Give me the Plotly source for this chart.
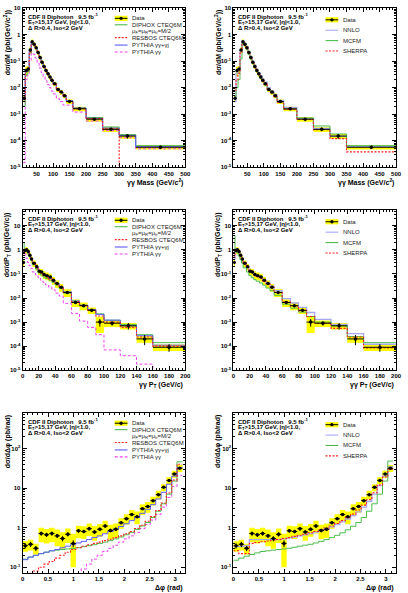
import plotly.graph_objects as go

# ---------------- data ----------------
mass_edges = [10, 16, 22, 28, 34, 40, 46, 52, 58, 64, 70, 76, 82, 88, 94, 100, 110, 120, 130, 140, 160, 200, 250, 300, 350, 500]
mass_data = [0.004, 0.044, 0.05, 0.26, 0.53, 0.43, 0.32, 0.21, 0.135, 0.09, 0.063, 0.044, 0.033, 0.025, 0.019,
             0.014, 0.0085, 0.0068, 0.005, 0.003, 0.0016, 0.00065, 0.00027, 0.00015, 0.000057]
mass_stat = [0.15, 0.06, 0.05, 0.03, 0.02, 0.02, 0.02, 0.02, 0.02, 0.03, 0.03, 0.03, 0.03, 0.03, 0.04,
             0.04, 0.05, 0.05, 0.06, 0.06, 0.07, 0.1, 0.15, 0.2, 0.15]
mass_sys = [0.3, 0.4, 0.3, 0.25, 0.22, 0.2, 0.2, 0.2, 0.2, 0.2, 0.2, 0.2, 0.2, 0.2, 0.2,
            0.2, 0.2, 0.2, 0.2, 0.2, 0.2, 0.2, 0.2, 0.2, 0.18]
mass_diphox = [0.002, 0.03, 0.04, 0.2, 0.45, 0.4, 0.3, 0.2, 0.13, 0.085, 0.06, 0.043, 0.032, 0.024, 0.018,
               0.0135, 0.0087, 0.0068, 0.005, 0.0031, 0.0017, 0.00075, 0.00033, 0.00017, 0.000065]
mass_resbos = [0.003, 0.04, 0.045, 0.22, 0.5, 0.42, 0.31, 0.2, 0.13, 0.088, 0.06, 0.043, 0.032, 0.024, 0.018,
               0.0135, 0.0085, 0.0066, 0.0048, 0.003, 0.0016, 0.00068, 0.00028, 1e-9, 1e-9]
mass_pythia = [0.0035, 0.04, 0.05, 0.24, 0.5, 0.43, 0.32, 0.21, 0.135, 0.09, 0.063, 0.045, 0.034, 0.025, 0.019,
               0.014, 0.009, 0.007, 0.0052, 0.0032, 0.0017, 0.0007, 0.0003, 0.00016, 0.00006]
mass_pythia_gg = [1.5e-5, 0.02, 0.03, 0.1, 0.2, 0.18, 0.13, 0.085, 0.055, 0.037, 0.026, 0.018, 0.013, 0.01, 0.0075,
                  0.0058, 0.0038, 0.003, 0.0022, 0.0022, 0.0012, 0.00055, 0.00024, 0.00013, 0.00005]
mass_nnlo = [0.003, 0.035, 0.05, 0.25, 0.55, 0.46, 0.35, 0.23, 0.15, 0.1, 0.07, 0.05, 0.037, 0.028, 0.021,
             0.016, 0.01, 0.0075, 0.0055, 0.0033, 0.0018, 0.0007, 0.00029, 0.00015, 0.00006]
mass_mcfm = [0.004, 0.01, 0.02, 0.12, 0.45, 0.38, 0.28, 0.18, 0.12, 0.08, 0.056, 0.04, 0.03, 0.022, 0.017,
             0.0125, 0.008, 0.0063, 0.0046, 0.0028, 0.0015, 0.00072, 0.00036, 0.00018, 0.000065]
mass_sherpa = [0.008, 0.02, 0.035, 0.2, 0.5, 0.42, 0.31, 0.2, 0.13, 0.088, 0.06, 0.043, 0.032, 0.024, 0.018,
               0.0133, 0.0083, 0.0064, 0.0046, 0.0028, 0.0015, 0.00063, 0.00026, 0.00012, 0.000038]

pt_edges = [0, 2, 4, 6, 8, 10, 12, 16, 19, 22, 25, 28, 32, 36, 40, 45, 50, 60, 70, 80, 90, 100, 120, 140, 160, 200]
pt_data = [0.3, 0.95, 1.0, 0.85, 0.6, 0.42, 0.28, 0.2, 0.13, 0.12, 0.095, 0.085, 0.075, 0.055, 0.04, 0.028, 0.017,
           0.0065, 0.0048, 0.0031, 0.001, 0.0009, 0.0007, 0.0002, 0.00009]
pt_stat = [0.06, 0.03, 0.03, 0.03, 0.03, 0.03, 0.03, 0.03, 0.04, 0.04, 0.04, 0.05, 0.05, 0.06, 0.06, 0.07, 0.07,
           0.1, 0.1, 0.12, 0.35, 0.2, 0.3, 0.45, 0.35]
pt_sys = [0.3, 0.3, 0.3, 0.3, 0.3, 0.3, 0.3, 0.3, 0.3, 0.35, 0.35, 0.35, 0.35, 0.35, 0.35, 0.35, 0.35,
          0.35, 0.35, 0.3, 0.65, 0.3, 0.3, 0.3, 0.3]
pt_diphox = [2.0, 1.0, 0.9, 0.7, 0.5, 0.37, 0.24, 0.16, 0.11, 0.09, 0.075, 0.065, 0.055, 0.045, 0.035, 0.025, 0.016,
             0.0075, 0.005, 0.0033, 0.0022, 0.0012, 0.0008, 0.0003, 0.00014]
pt_resbos = [0.6, 1.0, 0.95, 0.8, 0.6, 0.42, 0.28, 0.19, 0.135, 0.11, 0.09, 0.075, 0.062, 0.05, 0.038, 0.027, 0.017,
             0.007, 0.0048, 0.0031, 0.0018, 0.001, 0.0006, 0.00024, 0.0001]
pt_pythia = [0.8, 1.05, 0.95, 0.78, 0.58, 0.42, 0.29, 0.2, 0.14, 0.115, 0.095, 0.08, 0.066, 0.052, 0.04, 0.029, 0.018,
             0.0075, 0.005, 0.0033, 0.0021, 0.0012, 0.0007, 0.00027, 0.00011]
pt_pythia_gg = [0.9, 0.7, 0.45, 0.3, 0.22, 0.17, 0.12, 0.09, 0.07, 0.055, 0.045, 0.035, 0.028, 0.022, 0.016, 0.012,
                0.006, 0.0023, 0.0011, 0.0006, 0.0003, 0.00007, 0.00004, 0.000018, 0.000005]
pt_nnlo = [0.4, 1.1, 1.0, 0.82, 0.6, 0.43, 0.29, 0.2, 0.14, 0.115, 0.095, 0.08, 0.068, 0.055, 0.042, 0.031, 0.02,
           0.0095, 0.0062, 0.0041, 0.0025, 0.0013, 0.0008, 0.00033, 0.00012]
pt_mcfm = [4.0, 0.9, 0.75, 0.55, 0.4, 0.28, 0.18, 0.12, 0.085, 0.07, 0.058, 0.05, 0.042, 0.034, 0.026, 0.02, 0.013,
           0.0055, 0.0038, 0.0026, 0.0017, 0.001, 0.0007, 0.00025, 0.00014]
pt_sherpa = [0.5, 1.0, 0.98, 0.8, 0.6, 0.43, 0.29, 0.2, 0.14, 0.11, 0.09, 0.078, 0.065, 0.05, 0.039, 0.028, 0.017,
             0.007, 0.0047, 0.003, 0.0017, 0.0009, 0.00055, 0.00024, 0.000085]

dphi_edges = [0, 0.1047, 0.2094, 0.3142, 0.4189, 0.5236, 0.6283, 0.7330, 0.8378, 0.9425, 1.0472, 1.1519,
              1.2566, 1.3614, 1.4661, 1.5708, 1.6755, 1.7802, 1.8850, 1.9897, 2.0944, 2.1991, 2.3038,
              2.4086, 2.5133, 2.6180, 2.7227, 2.8274, 2.9322, 3.0369, 3.1416]
dphi_data = [0.35, 0.38, 0.30, 0.71, 0.66, 0.71, 0.62, 0.53, 0.68, 0.40, 0.83, 0.80, 0.94, 0.78, 0.91, 1.10,
             0.85, 0.91, 1.33, 1.68, 2.14, 1.88, 3.0, 3.4, 4.8, 6.8, 10.4, 15.6, 22.7, 31.6]
dphi_stat = [0.15, 0.15, 0.15, 0.12, 0.12, 0.12, 0.12, 0.15, 0.12, 0.2, 0.1, 0.1, 0.1, 0.1, 0.1, 0.1,
             0.1, 0.1, 0.08, 0.08, 0.07, 0.07, 0.06, 0.06, 0.05, 0.05, 0.04, 0.04, 0.04, 0.04]
dphi_sys = [0.3, 0.3, 0.3, 0.4, 0.4, 0.4, 0.45, 0.45, 0.4, 0.75, 0.35, 0.35, 0.35, 0.4, 0.35, 0.35,
            0.4, 0.4, 0.3, 0.3, 0.3, 0.35, 0.3, 0.3, 0.25, 0.25, 0.2, 0.2, 0.2, 0.2]
dphi_diphox = [0.16, 0.18, 0.2, 0.22, 0.24, 0.26, 0.27, 0.28, 0.29, 0.3, 0.31, 0.33, 0.35, 0.37, 0.4, 0.43,
               0.47, 0.52, 0.58, 0.66, 0.76, 0.9, 1.1, 1.35, 1.8, 2.6, 4.0, 7.0, 15, 46]
dphi_resbos = [0.065, 0.07, 0.08, 0.1, 0.12, 0.14, 0.17, 0.2, 0.24, 0.28, 0.31, 0.34, 0.37, 0.4, 0.43, 0.47,
               0.51, 0.56, 0.62, 0.7, 0.8, 0.95, 1.15, 1.45, 1.9, 2.7, 4.2, 7.5, 16, 40]
dphi_pythia = [0.155, 0.18, 0.2, 0.22, 0.24, 0.26, 0.28, 0.31, 0.34, 0.37, 0.41, 0.45, 0.5, 0.56, 0.62, 0.7,
               0.8, 0.92, 1.07, 1.25, 1.5, 1.8, 2.3, 2.9, 3.8, 5.3, 7.8, 12.5, 20, 33]
dphi_pythia_gg = [0.004, 0.005, 0.006, 0.007, 0.009, 0.011, 0.014, 0.019, 0.027, 0.04, 0.065, 0.09, 0.12, 0.16, 0.2, 0.25,
                  0.3, 0.36, 0.43, 0.52, 0.62, 0.76, 0.95, 1.2, 1.55, 2.15, 3.3, 5.8, 11, 21]
dphi_nnlo = [0.33, 0.33, 0.35, 0.5, 0.5, 0.5, 0.5, 0.5, 0.5, 0.52, 0.55, 0.58, 0.62, 0.66, 0.71, 0.77,
             0.84, 0.93, 1.05, 1.2, 1.4, 1.65, 2.0, 2.5, 3.3, 4.6, 7.0, 11.5, 20, 34]
dphi_mcfm = [0.15, 0.17, 0.19, 0.21, 0.23, 0.25, 0.26, 0.27, 0.28, 0.29, 0.3, 0.32, 0.34, 0.36, 0.38, 0.41,
             0.45, 0.5, 0.56, 0.64, 0.74, 0.88, 1.08, 1.35, 1.8, 2.6, 4.0, 7.0, 15, 48]
dphi_sherpa = [0.26, 0.22, 0.22, 0.4, 0.42, 0.44, 0.46, 0.48, 0.5, 0.53, 0.56, 0.6, 0.64, 0.68, 0.74, 0.8,
               0.88, 0.98, 1.1, 1.27, 1.5, 1.8, 2.2, 2.8, 3.7, 5.1, 7.6, 12, 19, 30]

mass_ticks = [50, 100, 150, 200, 250, 300, 350, 400, 450, 500]
pt_ticks = [0, 20, 40, 60, 80, 100, 120, 140, 160, 180, 200]
dphi_ticks = [0, 0.5, 1, 1.5, 2, 2.5, 3]
dphi_ticklabels = ["0", "0.5", "1", "1.5", "2", "2.5", "3"]

# ---------------- style / layout ----------------
W, H = 408, 593
FONT = "Liberation Sans"
C_GREEN, C_RED, C_BLUE, C_MAG, C_NNLO = "#4cbc4c", "#ff2020", "#5a5aff", "#f040f0", "#a8a8f0"
RED_DOT = "2px,1.5px"
MAG_DASH = "3px,2px"
YELLOW = "#ffff00"

# panel pixel boxes: left, top, right, bottom
boxes = {1: (21, 5, 187, 166), 2: (236, 5, 402, 166),
         3: (21, 209, 187, 371), 4: (236, 209, 402, 371),
         5: (21, 414, 187, 576), 6: (236, 414, 402, 576)}

fig = go.Figure()


def axn(i, base):
    return base if i == 1 else f"{base}{i}"


def add_panel(i, edges, data, stat, sys, curves):
    xa, ya = axn(i, "x"), axn(i, "y")
    cen = [(a + b) / 2 for a, b in zip(edges[:-1], edges[1:])]
    half = [(b - a) / 2 for a, b in zip(edges[:-1], edges[1:])]
    px, py = [], []
    for a, b, v, s in zip(edges[:-1], edges[1:], data, sys):
        lo, hi = v * (1 - s), v * (1 + s)
        px += [a, b, b, a, a, None]
        py += [lo, lo, hi, hi, lo, None]
    fig.add_trace(go.Scatter(x=px, y=py, mode="lines", fill="toself", fillcolor=YELLOW,
                             line=dict(width=0), hoverinfo="skip", showlegend=False, xaxis=xa, yaxis=ya))
    for vals, color, dash, width in curves:
        fig.add_trace(go.Scatter(x=edges, y=list(vals) + [vals[-1]], mode="lines",
                                 line=dict(shape="hv", color=color, dash=dash, width=width),
                                 showlegend=False, xaxis=xa, yaxis=ya))
    fig.add_trace(go.Scatter(x=cen, y=data, mode="markers",
                             marker=dict(color="black", size=3.5),
                             error_x=dict(type="data", array=half, width=0, thickness=1, color="black"),
                             error_y=dict(type="data", array=[v * s for v, s in zip(data, stat)],
                                          width=0, thickness=1, color="black"),
                             showlegend=False, xaxis=xa, yaxis=ya))


add_panel(1, mass_edges, mass_data, mass_stat, mass_sys,
          [(mass_pythia_gg, C_MAG, MAG_DASH, 1), (mass_diphox, C_GREEN, "solid", 1),
           (mass_pythia, C_BLUE, "solid", 1), (mass_resbos, C_RED, RED_DOT, 1.1)])
add_panel(2, mass_edges, mass_data, mass_stat, mass_sys,
          [(mass_nnlo, C_NNLO, "solid", 1.3), (mass_mcfm, C_GREEN, "solid", 1), (mass_sherpa, C_RED, RED_DOT, 1.1)])
add_panel(3, pt_edges, pt_data, pt_stat, pt_sys,
          [(pt_pythia_gg, C_MAG, MAG_DASH, 1), (pt_diphox, C_GREEN, "solid", 1),
           (pt_pythia, C_BLUE, "solid", 1), (pt_resbos, C_RED, RED_DOT, 1.1)])
add_panel(4, pt_edges, pt_data, pt_stat, pt_sys,
          [(pt_nnlo, C_NNLO, "solid", 1.3), (pt_mcfm, C_GREEN, "solid", 1), (pt_sherpa, C_RED, RED_DOT, 1.1)])
add_panel(5, dphi_edges, dphi_data, dphi_stat, dphi_sys,
          [(dphi_pythia_gg, C_MAG, MAG_DASH, 1), (dphi_diphox, C_GREEN, "solid", 1),
           (dphi_pythia, C_BLUE, "solid", 1), (dphi_resbos, C_RED, RED_DOT, 1.1)])
add_panel(6, dphi_edges, dphi_data, dphi_stat, dphi_sys,
          [(dphi_nnlo, C_NNLO, "solid", 1.3), (dphi_mcfm, C_GREEN, "solid", 1), (dphi_sherpa, C_RED, RED_DOT, 1.1)])


def log_ticks(lo, hi):
    vals, txt, minor = [], [], []
    for e in range(lo, hi + 1):
        vals.append(10.0 ** e)
        if e == 0:
            txt.append("<b>1</b>")
        elif e == 1:
            txt.append("<b>10</b>")
        else:
            txt.append("<b>10<sup>%d</sup></b>" % e)
        for k in range(2, 10):
            minor.append(k * 10.0 ** e)
    return vals, txt, minor


xspec = {1: dict(range=[8, 500], ticks=mass_ticks, labels=[str(v) for v in mass_ticks], minor=10),
         2: dict(range=[8, 500], ticks=mass_ticks, labels=[str(v) for v in mass_ticks], minor=10),
         3: dict(range=[0, 200], ticks=pt_ticks, labels=[str(v) for v in pt_ticks], minor=4),
         4: dict(range=[0, 200], ticks=pt_ticks, labels=[str(v) for v in pt_ticks], minor=4),
         5: dict(range=[0, 3.2], ticks=dphi_ticks, labels=dphi_ticklabels, minor=0.1),
         6: dict(range=[0, 3.2], ticks=dphi_ticks, labels=dphi_ticklabels, minor=0.1)}
yspec = {1: ([-5, 1], -5, 1), 2: ([-5, 1], -5, 1), 3: ([-5, 1.66], -5, 1), 4: ([-5, 1.66], -5, 1),
         5: ([-1.15, 2.9], -1, 2), 6: ([-1.15, 2.9], -1, 2)}

lay = {}
for i, (l, t, r, b) in boxes.items():
    xs = xspec[i]
    lay[axn(i, "xaxis")] = dict(
        domain=[l / W, r / W], anchor=axn(i, "y"), range=xs["range"],
        tickmode="array", tickvals=xs["ticks"], ticktext=["<b>%s</b>" % s for s in xs["labels"]],
        showline=True, linecolor="black", linewidth=1, mirror="allticks", ticks="inside", ticklen=4,
        tickcolor="black", tickwidth=1, showgrid=False, zeroline=False,
        tickfont=dict(family=FONT, size=6, color="black"),
        minor=dict(ticks="inside", ticklen=2, dtick=xs["minor"], tick0=0, tickcolor="black", showgrid=False))
    rng, lo, hi = yspec[i]
    tv, tt, mv = log_ticks(lo, hi)
    lay[axn(i, "yaxis")] = dict(
        domain=[1 - b / H, 1 - t / H], anchor=axn(i, "x"), type="log", range=rng,
        tickmode="array", tickvals=tv, ticktext=tt,
        showline=True, linecolor="black", linewidth=1, mirror="allticks", ticks="inside", ticklen=4,
        tickcolor="black", tickwidth=1, showgrid=False, zeroline=False,
        tickfont=dict(family=FONT, size=6, color="black"),
        minor=dict(ticks="inside", ticklen=2, tickmode="array", tickvals=mv, tickcolor="black", showgrid=False))

annotations, shapes = [], []

xtitles = {1: "γγ Mass (GeV/c<sup>2</sup>)", 3: "γγ P<sub>T</sub> (GeV/c)", 5: "Δφ (rad)"}
ytitles = {1: "dσ/dM (pb/(GeV/c<sup>2</sup>))", 3: "dσ/dP<sub>T</sub> (pb/(GeV/c))", 5: "dσ/dΔφ (pb/rad)"}
for i, (l, t, r, b) in boxes.items():
    key = i if i % 2 == 1 else i - 1
    annotations.append(dict(x=r / W, y=1 - (b + 9) / H, xref="paper", yref="paper", xanchor="right",
                            yanchor="top", showarrow=False, text="<b>%s</b>" % xtitles[key],
                            font=dict(family=FONT, size=7, color="black")))
    annotations.append(dict(x=(l - 15) / W, y=1 - t / H, xref="paper", yref="paper", xanchor="center",
                            yanchor="top", showarrow=False, textangle=-90, text="<b>%s</b>" % ytitles[key],
                            font=dict(family=FONT, size=7, color="black")))
    lines = ["CDF II Diphoton   9.5 fb<sup>-1</sup>", "E<sub>T</sub>&gt;15,17 GeV, |η|&lt;1.0,",
             "Δ R&gt;0.4, Iso&lt;2 GeV"]
    for k, txt in enumerate(lines):
        annotations.append(dict(x=(l + 3) / W, y=1 - (t + 8.5 + 6 * k) / H, xref="paper", yref="paper",
                                xanchor="left", yanchor="middle", showarrow=False, text="<b>%s</b>" % txt,
                                font=dict(family=FONT, size=6, color="black")))

    if i % 2 == 1:
        entries = [("data", "Data", None, None, 10.5),
                   ("line", "DIPHOX CTEQ6M", C_GREEN, "solid", 17),
                   ("text", "μ<sub>F</sub>=μ<sub>R</sub>=μ<sub>fr</sub>=M/2", None, None, 23.5),
                   ("line", "RESBOS CTEQ6M", C_RED, RED_DOT, 30),
                   ("line", "PYTHIA γγ+γj", C_BLUE, "solid", 37.5),
                   ("line", "PYTHIA γγ", C_MAG, MAG_DASH, 44.5)]
    else:
        entries = [("data", "Data", None, None, 12),
                   ("line", "NNLO", C_NNLO, "solid", 22.5),
                   ("line", "MCFM", C_GREEN, "solid", 33),
                   ("line", "SHERPA", C_RED, RED_DOT, 43.5)]
    sx0, sx1, tx = l + 94, l + 107, l + 110
    for kind, label, color, dash, dy in entries:
        yc = t + dy
        if kind == "data":
            shapes.append(dict(type="rect", xref="paper", yref="paper", x0=sx0 / W, x1=sx1 / W,
                               y0=1 - (yc + 2.6) / H, y1=1 - (yc - 2.6) / H, fillcolor=YELLOW, line=dict(width=0)))
            shapes.append(dict(type="line", xref="paper", yref="paper", x0=sx0 / W, x1=sx1 / W,
                               y0=1 - yc / H, y1=1 - yc / H, line=dict(color="black", width=1)))
            shapes.append(dict(type="circle", xref="paper", yref="paper", x0=(sx0 + sx1 - 3.4) / 2 / W,
                               x1=(sx0 + sx1 + 3.4) / 2 / W, y0=1 - (yc + 1.7) / H, y1=1 - (yc - 1.7) / H,
                               fillcolor="black", line=dict(width=0)))
        elif kind == "line":
            shapes.append(dict(type="line", xref="paper", yref="paper", x0=sx0 / W, x1=sx1 / W,
                               y0=1 - yc / H, y1=1 - yc / H, line=dict(color=color, width=1.1, dash=dash)))
        annotations.append(dict(x=tx / W, y=1 - yc / H, xref="paper", yref="paper", xanchor="left",
                                yanchor="middle", showarrow=False, text=label,
                                font=dict(family=FONT, size=6, color="#222222")))

fig.update_layout(width=W, height=H, margin=dict(l=0, r=0, t=0, b=0), paper_bgcolor="white",
                  plot_bgcolor="white", showlegend=False, annotations=annotations, shapes=shapes, **lay)
fig.write_html("out.html")
